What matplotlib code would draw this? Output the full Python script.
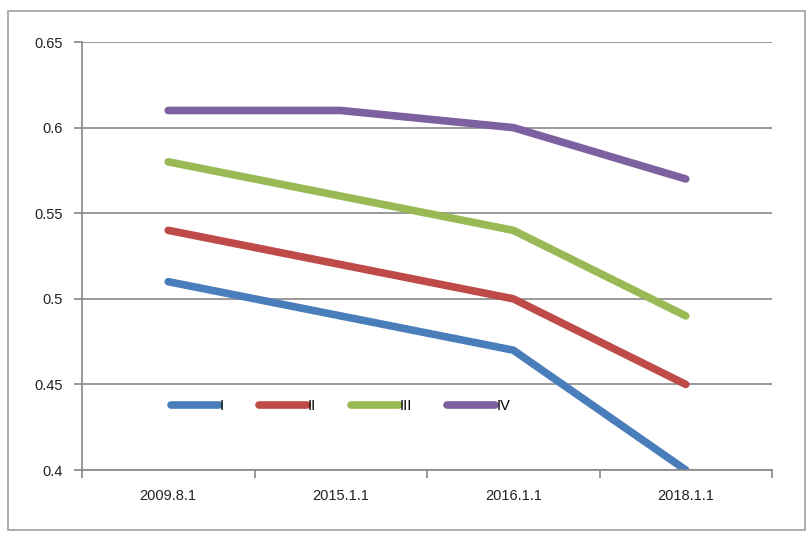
import matplotlib.pyplot as plt
from matplotlib.patches import Rectangle
import numpy as np

categories = ["2009.8.1", "2015.1.1", "2016.1.1", "2018.1.1"]
series_names = ["I", "II", "III", "IV"]
s1 = [0.51, 0.49, 0.47, 0.40]
s2 = [0.54, 0.52, 0.50, 0.45]
s3 = [0.58, 0.56, 0.54, 0.49]
s4 = [0.61, 0.61, 0.60, 0.57]
colors = ["#4a7ebb", "#be4b48", "#98b954", "#7d60a0"]

plt.rcParams['font.family'] = ['Liberation Sans Narrow', 'Liberation Sans', 'DejaVu Sans']

W, H = 807, 533
fig = plt.figure(figsize=(W / 100, H / 100), dpi=100)
ax = fig.add_axes([82 / W, 1 - 470 / H, (772 - 82) / W, (470 - 42) / H])

# outer chart frame
fig.patches.append(Rectangle((8 / W, 3 / H), (805 - 8) / W, (522 - 3) / H,
                             transform=fig.transFigure, fill=False,
                             edgecolor="#a0a0a0", linewidth=1.2))

x = np.arange(len(categories))
for vals, name, c in zip([s1, s2, s3, s4], series_names, colors):
    ax.plot(x, vals, color=c, linewidth=5.5, solid_capstyle="round",
            solid_joinstyle="round", label=name)

ax.set_xlim(-0.5, len(categories) - 0.5)
ax.set_ylim(0.4, 0.65)
ax.set_yticks(np.arange(0.4, 0.651, 0.05))
ax.set_yticklabels(["0.4", "0.45", "0.5", "0.55", "0.6", "0.65"])
ax.set_xticks(x)
ax.set_xticklabels(categories)
ax.set_xticks(np.arange(-0.5, len(categories), 1), minor=True)
ax.tick_params(axis="x", which="major", length=0, pad=14, labelsize=10.5,
               labelcolor="#222222")
ax.tick_params(axis="x", which="minor", length=6, color="#888888", width=1.2)
ax.tick_params(axis="y", length=6, color="#888888", width=1.2, labelsize=10.5,
               pad=8, labelcolor="#222222")

ax.grid(axis="y", color="#888888", linewidth=1.2)
ax.set_axisbelow(True)
for side in ["top", "right"]:
    ax.spines[side].set_visible(False)
for side in ["left", "bottom"]:
    ax.spines[side].set_color("#888888")
    ax.spines[side].set_linewidth(1.2)

ax.legend(loc="center left", bbox_to_anchor=(0.11, 0.15), ncol=4, frameon=False,
          handlelength=3.3, handletextpad=0.05, columnspacing=2.4, fontsize=10.5)

plt.savefig("out.png", dpi=100)
